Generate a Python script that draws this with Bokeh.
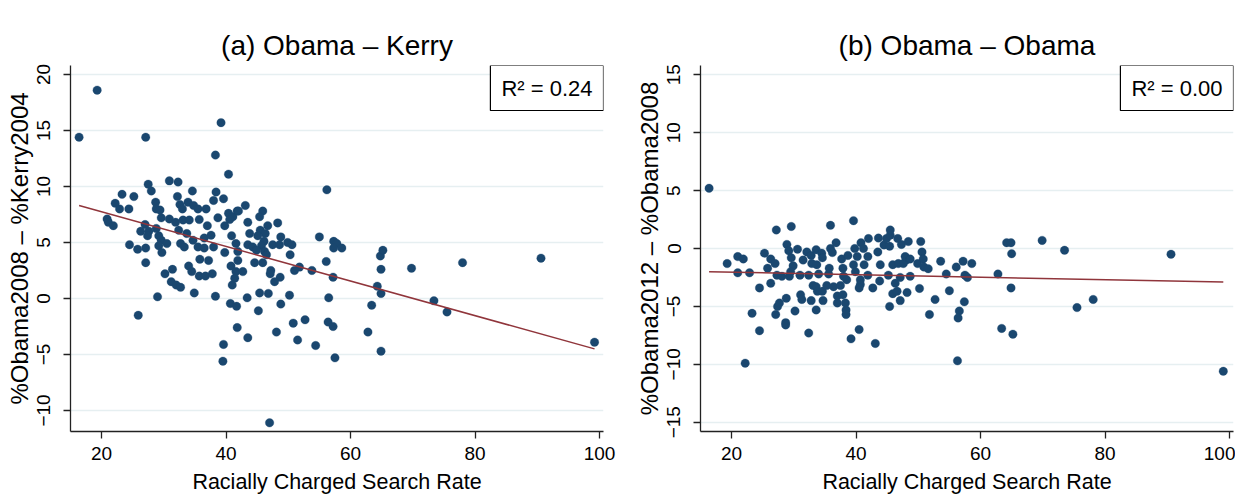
from bokeh.plotting import figure
from bokeh.layouts import row
from bokeh.models import Label, FixedTicker, Range1d, LinearAxis
from bokeh.embed import file_html
from bokeh.resources import INLINE

# ---------------- data ----------------
# Panel (a): racially charged search rate vs. %Obama2008 - %Kerry2004
points_a = [
    (16.4, 14.4), (19.3, 18.6), (27.1, 14.4), (39.2, 15.7), (38.3, 12.8), (40.4, 11.1),
    (56.2, 9.7), (90.6, 3.6), (78.0, 3.2), (69.8, 2.7), (73.4, -0.2), (75.5, -1.2),
    (99.2, -3.9), (47.0, -11.1),
    (27.5, 10.2), (28.0, 9.6), (30.9, 10.5), (32.3, 10.4), (23.3, 9.3), (25.2, 9.1),
    (22.2, 8.5), (22.9, 8.0), (24.4, 8.0), (20.9, 7.1), (21.1, 6.8), (21.9, 6.5),
    (34.6, 9.6), (32.2, 9.1), (28.7, 8.6), (28.8, 8.0), (29.4, 7.9), (29.6, 7.2),
    (32.6, 8.4), (33.0, 8.0), (33.9, 8.6), (34.8, 8.3), (35.5, 8.0), (36.8, 8.0),
    (38.4, 9.5), (38.0, 8.75), (39.6, 8.9), (30.9, 7.1), (31.9, 6.8), (33.1, 7.0),
    (34.1, 7.0), (35.7, 7.05), (37.0, 6.5), (38.7, 7.2), (40.4, 7.6), (41.1, 7.3),
    (41.8, 7.8), (39.8, 6.5), (27.0, 6.6), (26.3, 6.0), (27.6, 6.0), (28.8, 6.25),
    (27.4, 5.6), (29.2, 5.6), (29.6, 5.2), (30.5, 4.9), (32.4, 6.1), (33.7, 5.8),
    (32.7, 4.9), (33.3, 4.6), (34.7, 5.2), (35.5, 4.6), (36.5, 5.4), (37.6, 5.65),
    (36.5, 4.5), (38.0, 4.6), (24.5, 4.8), (25.8, 4.4), (27.1, 4.5), (29.2, 4.7),
    (29.7, 4.1), (27.1, 3.2), (39.8, 4.1), (35.8, 3.5), (37.2, 3.4), (34.0, 2.9),
    (34.5, 2.4), (31.4, 2.6), (30.2, 2.2), (35.7, 2.0), (36.7, 2.0), (37.8, 2.2),
    (40.8, 2.9), (40.9, 5.6), (41.6, 2.4), (41.4, 1.8), (41.0, 1.2), (31.2, 1.5),
    (32.0, 1.2), (32.7, 1.0), (34.9, 0.5), (38.3, 0.2), (29.0, 0.15), (40.7, -0.45),
    (41.6, 4.9), (40.6, 7.05),
    (43.1, 8.3), (42.0, 7.8), (45.9, 7.8), (45.4, 7.3), (43.5, 6.8), (46.7, 6.5),
    (48.3, 6.75), (45.5, 6.1), (43.8, 5.8), (46.3, 5.8), (45.1, 5.6), (48.8, 5.5),
    (46.1, 5.1), (47.5, 4.8), (48.6, 4.8), (49.9, 5.0), (50.6, 4.8), (43.5, 4.8),
    (44.3, 4.6), (45.7, 4.7), (44.9, 4.3), (46.2, 4.2), (41.9, 4.2), (55.0, 5.5),
    (57.3, 5.1), (57.8, 4.9), (57.3, 4.5), (58.6, 4.5), (50.3, 3.9), (46.5, 3.9),
    (41.9, 3.4), (44.6, 3.2), (45.9, 3.2), (51.8, 2.8), (51.0, 2.5), (53.8, 2.5),
    (56.1, 3.3), (47.2, 2.5), (47.1, 2.2), (42.7, 2.4), (48.7, 1.9), (47.8, 1.5),
    (57.2, 1.9), (64.3, 1.1), (64.9, 0.45), (64.9, 2.6), (64.8, 3.8), (65.2, 4.3),
    (45.4, 0.5), (46.8, 0.45), (50.2, 0.3), (43.4, 0.06), (56.5, 0.06), (48.8, -0.5),
    (63.4, -0.6), (41.7, -0.7),
    (25.9, -1.5), (39.6, -4.1), (39.5, -5.6), (41.8, -2.6), (43.5, -3.5), (45.2, -1.1),
    (48.1, -3.0), (50.8, -2.2), (51.5, -3.7), (52.7, -1.9), (54.4, -4.2), (56.4, -2.1),
    (57.2, -2.5), (57.5, -5.3), (62.8, -3.0), (64.9, -4.7),
]

# Panel (b): racially charged search rate vs. %Obama2012 - %Obama2008
points_b = [
    (16.4, 5.2), (19.3, -1.3), (21.0, -0.7), (21.9, -0.9), (21.0, -2.1), (22.9, -2.1),
    (22.2, -9.9), (23.3, -5.6), (24.5, -7.1), (24.5, -3.4), (25.3, -0.4), (26.3, -0.9),
    (25.8, -1.7), (27.0, -1.3), (27.2, 1.6), (26.3, -3.0), (27.3, -2.3), (28.1, -2.4),
    (27.1, -5.7), (27.4, -5.0), (27.7, -4.7), (28.8, -4.3), (28.7, -6.4), (28.7, -6.6),
    (29.6, 1.9), (28.9, 0.35), (29.2, -0.2), (29.6, -0.8), (29.9, -1.5), (29.5, -2.0),
    (29.3, -2.4), (30.2, -5.4), (30.6, -0.06), (31.0, -2.3), (31.5, -1.0), (31.1, -4.0),
    (31.3, -4.4), (32.4, -7.3), (32.1, -0.3), (32.8, -0.6), (32.4, -2.3), (32.9, -1.3),
    (33.1, -3.2), (32.8, -4.5), (33.6, -5.3), (33.7, -1.4), (33.6, -3.3), (33.8, -3.7),
    (33.6, -0.1), (34.5, -0.4), (34.6, -0.8), (34.0, -2.2), (34.6, -3.7), (34.7, -4.5),
    (35.9, 2.0), (35.9, 0.0), (36.2, -0.35), (35.7, -1.7), (35.6, -2.2), (35.3, -3.2),
    (36.4, -3.3), (36.8, 0.5), (37.0, -4.7), (37.0, -4.1), (37.5, -3.2), (38.0, -2.4),
    (37.7, -0.9), (37.9, -1.7), (38.3, -4.7), (38.4, -5.3), (38.4, -5.7), (37.9, -4.0),
    (38.7, -0.6), (38.5, -2.7), (39.6, 2.4), (39.6, -1.4), (39.8, 0.0), (39.9, -2.0),
    (40.2, -0.7), (40.7, -2.7), (40.7, -3.1), (40.5, -3.4), (40.5, -7.0), (39.2, -7.8),
    (40.8, 0.5), (41.2, 0.0), (41.3, -1.4), (41.9, -0.7), (42.0, 0.86), (41.9, -2.3),
    (42.7, -3.4), (43.1, -8.2), (43.5, -0.3), (43.6, 0.9), (43.9, -1.4), (43.8, -2.8),
    (44.5, 0.3), (44.9, 0.86), (45.4, 0.2), (45.5, 1.15), (45.5, 1.6), (45.2, -2.3),
    (45.4, -5.0), (45.9, -3.9), (46.3, -3.0), (46.6, -3.7), (45.9, -1.4), (46.8, -1.3),
    (46.7, 0.86), (47.1, -2.5), (47.3, 0.35), (47.6, -1.3), (47.1, -4.5), (48.1, -1.0),
    (48.2, -3.8), (48.4, 0.6), (47.9, -0.7), (48.7, -0.9), (48.7, -2.4), (49.9, -1.3),
    (50.4, 0.6), (50.6, -0.3), (50.8, -0.9), (50.9, -1.6), (51.6, -1.75), (50.2, -3.45),
    (51.8, -5.7), (52.7, -4.4), (53.6, -1.1), (54.5, -2.2), (55.0, -3.65), (56.1, -1.6),
    (57.2, -1.1), (58.6, -1.3), (57.5, -2.3), (57.9, -2.5), (57.4, -4.6), (56.6, -5.4),
    (56.4, -6.0), (56.3, -9.7), (62.8, -2.2), (64.2, 0.5), (64.9, 0.5), (65.0, -0.45),
    (64.9, -3.4), (63.4, -6.9), (65.2, -7.4), (69.9, 0.7), (73.5, -0.15), (75.5, -5.1),
    (78.1, -4.4), (90.6, -0.5), (99.0, -10.6),
]

# fitted regression lines (end points)
fit_a_x = [16.4, 99.2]
fit_a_y = [8.3, -4.5]
fit_b_x = [16.4, 99.0]
fit_b_y = [-2.0, -2.9]

r2_values = [0.24, 0.00]
titles = ["(a) Obama \u2013 Kerry", "(b) Obama \u2013 Obama"]
y_labels = ["%Obama2008 \u2013 %Kerry2004", "%Obama2012 \u2013 %Obama2008"]
x_label = "Racially Charged Search Rate"
x_ticks = [20, 40, 60, 80, 100]
y_ticks_a = [-10, -5, 0, 5, 10, 15, 20]
y_ticks_b = [-15, -10, -5, 0, 5, 10, 15]

# ---------------- styling ----------------
FONT = "Liberation Sans"
NAVY = "#1a476f"
MAROON = "#90353b"
GRID = "#e6eff1"
X_LIMITS = (15.02, 100.64)
FRAME_W = 533
FRAME_H = 366


def fmt(v):
    return str(v).replace("-", "\u2212")


def panel(points, fx, fy, r2, y_ticks, y_limits, title, ylab, border_left, border_right):
    xs = [pt[0] for pt in points]
    ys = [pt[1] for pt in points]
    p = figure(width=border_left + FRAME_W + border_right, height=65 + FRAME_H + 65,
               output_backend="svg", toolbar_location=None,
               x_range=Range1d(*X_LIMITS), y_range=Range1d(*y_limits),
               min_border_left=border_left, min_border_right=border_right,
               min_border_top=65, min_border_bottom=65)
    p.outline_line_color = None
    p.background_fill_color = "white"
    p.border_fill_color = "white"

    p.xaxis.ticker = FixedTicker(ticks=x_ticks)
    p.yaxis.ticker = FixedTicker(ticks=y_ticks)
    p.ygrid.ticker = p.yaxis[0].ticker
    p.xgrid.visible = False
    p.ygrid.grid_line_color = GRID
    p.ygrid.grid_line_width = 1.5

    p.xaxis.major_label_overrides = {t: fmt(t) for t in x_ticks}
    p.yaxis.major_label_overrides = {t: fmt(t) for t in y_ticks}
    p.yaxis.major_label_orientation = "vertical"

    for ax in p.axis:
        ax.axis_line_color = "#222222"
        ax.axis_line_width = 1.3
        ax.major_tick_line_color = "#222222"
        ax.major_tick_line_width = 1.3
        ax.major_tick_out = 7
        ax.major_tick_in = 0
        ax.minor_tick_line_color = None
        ax.major_label_text_font = FONT
        ax.major_label_text_font_size = "19px"
        ax.major_label_text_color = "black"
        ax.axis_label_text_font = FONT
        ax.axis_label_text_font_style = "normal"
        ax.axis_label_text_color = "black"
    p.xaxis.axis_label = x_label
    p.yaxis.axis_label = ylab
    p.xaxis.axis_label_text_font_size = "21.5px"
    p.yaxis.axis_label_text_font_size = "24px"
    p.xaxis.major_label_standoff = 8
    p.yaxis.major_label_standoff = 13
    p.xaxis.axis_label_standoff = 7
    p.yaxis.axis_label_standoff = 2

    # spacer axis above the frame: no ticks, no labels; its (white, never drawn)
    # tick length reserves room so the title sits higher
    spacer = LinearAxis(ticker=FixedTicker(ticks=[]), axis_line_color=None,
                        major_tick_line_color="white", minor_tick_line_color=None,
                        major_tick_out=21, major_tick_in=0, minor_tick_out=0,
                        major_label_standoff=0)
    p.add_layout(spacer, "above")

    p.title.text = title
    p.title.align = "center"
    p.title.text_font = FONT
    p.title.text_font_size = "28px"
    p.title.text_font_style = "normal"
    p.title.text_color = "black"
    p.title.standoff = 10

    p.scatter(xs, ys, size=8.5, fill_color=NAVY, line_color=NAVY, line_width=0.3)
    p.line(fx, fy, line_color=MAROON, line_width=1.5)

    lab = Label(x=X_LIMITS[1], y=y_limits[1], text="R\u00b2 = %.2f" % r2,
                text_align="right", text_baseline="top",
                x_offset=0, y_offset=0,
                text_font=FONT, text_font_size="22px", text_color="black",
                border_line_color="black", border_line_width=1.2,
                background_fill_color="white",
                padding=dict(left=11, right=11, top=10, bottom=10))
    p.add_layout(lab)
    return p


p1 = panel(points_a, fit_a_x, fit_a_y, r2_values[0], y_ticks_a, (-11.875, 20.8),
           titles[0], y_labels[0], 70, 23)
p2 = panel(points_b, fit_b_x, fit_b_y, r2_values[1], y_ticks_b, (-15.8, 15.8),
           titles[1], y_labels[1], 74, 2)

layout = row(p1, p2)
open("out.html", "w").write(file_html(layout, INLINE, title="Obama vote share vs racially charged search"))
